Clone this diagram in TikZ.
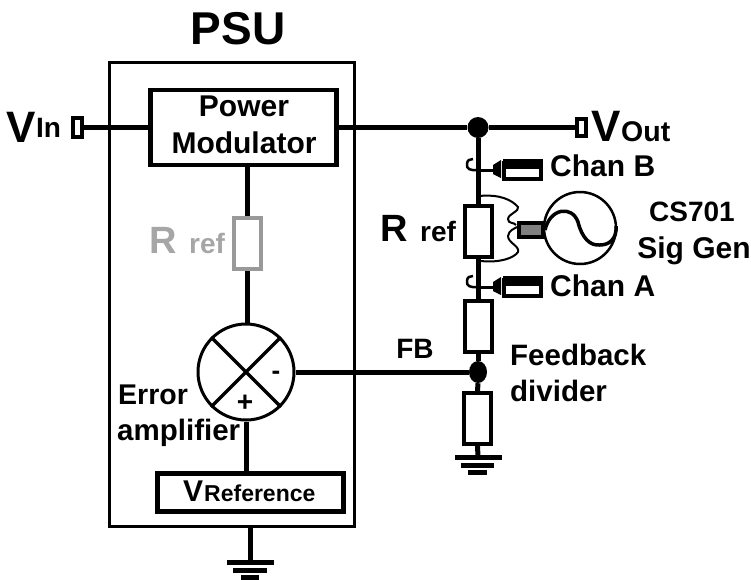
\documentclass[tikz,border=0pt]{standalone}
\usepackage{fontspec}
\usetikzlibrary{shapes.geometric}
\setmainfont{Liberation Sans}[BoldFont={Liberation Sans Bold}]
\newcommand{\fsz}[1]{\fontsize{#1}{#1}\selectfont\bfseries}
\tikzset{
  wire/.style={line width=5pt,black},
  blk/.style={draw=black,line width=4.5pt,fill=white,inner sep=0pt},
  res/.style={draw=black,line width=4pt,fill=white,inner sep=0pt,minimum width=27pt,minimum height=51pt},
  lbl/.style={inner sep=0pt,text=black,anchor=base,align=center},
  dot/.style={fill=black,inner sep=0pt},
  gbar/.style={line width=5pt,black},
  probe/.style={draw=black,line width=4pt,fill=white,inner sep=0pt,minimum width=37pt,minimum height=16pt},
  curl/.style={line width=2pt,black}
}
\begin{document}
\begin{tikzpicture}[x=1pt,y=-1pt]
\useasboundingbox (0,0) rectangle (751,579);
% PSU box
\node[draw=black,line width=3pt,inner sep=0pt,minimum width=245pt,minimum height=464pt] (psu) at (232,294.5) {};
\node[dot,circle,minimum size=21pt] (top) at (478,127.5) {};
\node[dot,ellipse,minimum width=18pt,minimum height=22pt] (fbd) at (478,372) {};
\node[draw=black,line width=4.5pt,fill=white,inner sep=0pt,minimum width=186pt,minimum height=75pt] (pm) at (243.5,127.5) {};
\node[blk,minimum width=186pt,minimum height=38pt] (vr) at (250.5,492.5) {};
\node[draw=black,line width=3pt,fill=white,circle,inner sep=0pt,minimum size=96pt] (amp) at (246,372) {};
\node[res,draw=black!40!white] (rl) at (247,243.5) {};
\node[res] (rr) at (478,231.5) {};
\node[res] (rd) at (478,326) {};
\node[res] (rb) at (477.5,418.5) {};
\node[draw=black,line width=4pt,fill=white,inner sep=0pt,minimum width=9pt,minimum height=19pt] (vin) at (77,127.5) {};
\node[draw=black,line width=4pt,fill=white,inner sep=0pt,minimum width=9pt,minimum height=17pt] (vout) at (581.5,127.5) {};
\coordinate (g1) at (250,562);
\coordinate (g2) at (478,457);
\draw[wire] (vin.east) -- (pm.west);
\draw[wire] (pm.east) -- (top.west);
\draw[wire] (top.east) -- (vout.west);
\draw[wire] (pm.south-|rl) -- (rl.north);
\draw[wire] (rl.south) -- (amp.north-|rl);
\draw[wire] (amp.south) -- (vr.north-|amp);
\draw[wire] (top.south) -- (rr.north);
\draw[wire] (rr.south) -- (rd.north);
\draw[wire] (rd.south) -- (fbd.north);
\draw[wire] (fbd.south) -- (rb.north);
\draw[wire] (amp.east) -- (fbd.west);
\draw[wire] (rb.south) -- (g2);
\draw[wire] (psu.south-|g1) -- (g1);
% cross
\draw[line width=3.5pt] (amp.45) -- (amp.225);
\draw[line width=3.5pt] (amp.135) -- (amp.315);
% grounds
\draw[gbar] (227,562) -- (274,562); \draw[gbar] (233,570) -- (267,570); \draw[gbar] (241,577) -- (259,577);
\draw[gbar] (455,457) -- (502,457); \draw[gbar] (461,465) -- (494,465); \draw[gbar] (468,472) -- (487,472);
% probes
\foreach \nm/\yy in {pb/170,pa/287}{
  \coordinate (\nm s) at (478,\yy);
  \node[probe] (\nm) at (522,\yy-1+2) {};
  \fill[black] (503,\yy-11) rectangle (543,\yy-1);
  \fill[black] (493,\yy-5) -- (501,\yy-10) -- (501,\yy+8) -- (493,\yy+4) -- cycle;
  \draw[line width=3pt] (\nm s) -- (495,\yy);
  \draw[line width=2.5pt] (478,\yy) .. controls (471,\yy+1) and (466,\yy-1) .. (467,\yy-6) .. controls (467,\yy-10) and (470,\yy-11) .. (473,\yy-11);
}
% signal generator
\node[draw=black,line width=2.5pt,circle,fill=white,inner sep=0pt,minimum size=72pt] (sg) at (580,228) {};
\draw[line width=3.5pt] (545,230) .. controls (550,208) and (572,205) .. (578,222) .. controls (582,238) and (590,246) .. (600,245) .. controls (610,245) and (617,238) .. (616,226);
\node[draw=black,line width=4pt,fill=black!50!white,inner sep=0pt,minimum width=24pt,minimum height=14pt] (sgc) at (531,230) {};
\draw[curl] (479,196) .. controls (500,194) and (512,200) .. (518,207) .. controls (520,211) and (508,214) .. (508,219) .. controls (508,224) and (514,222) .. (516,225);
\draw[curl] (481,261) .. controls (500,263) and (514,258) .. (518,252) .. controls (520,246) and (508,243) .. (508,236) .. controls (509,230) and (514,229) .. (517,227);
% labels
\node[lbl,font=\fsz{46}] (tpsu) at (238,44) {PSU};
\node[lbl,anchor=base west,font=\fsz{44}] (tvin) at (6,142) {V};
\node[lbl,anchor=base west,font=\fsz{28}] (tin) at (36,137) {In};
\node[lbl,anchor=base west,font=\fsz{44}] (tvo) at (591,141) {V};
\node[lbl,anchor=base west,font=\fsz{28.5}] (tou) at (621,141) {Out};
\node[lbl,font=\fsz{30}] (tp1) at (244,116) {Power};
\node[lbl,font=\fsz{30}] (tp2) at (244,153) {Modulator};
\node[lbl,anchor=base west,font=\fsz{30}] (tcb) at (550,176) {Chan B};
\node[lbl,anchor=base west,font=\fsz{30}] (tca) at (550,296) {Chan A};
\node[lbl,font=\fsz{28}] (tcs) at (692,221) {CS701};
\node[lbl,font=\fsz{30}] (tsg) at (694,258) {Sig Gen};
\node[lbl,anchor=base west,font=\fsz{38},text=black!35!white] (trl) at (149,253) {R};
\node[lbl,anchor=base west,font=\fsz{28},text=black!35!white] (trl2) at (189,253) {ref};
\node[lbl,anchor=base west,font=\fsz{38}] (trr) at (380,241) {R};
\node[lbl,anchor=base west,font=\fsz{28}] (trr2) at (420,241) {ref};
\node[lbl,font=\fsz{28}] (tfb) at (415,358) {FB};
\node[lbl,anchor=base west,font=\fsz{29.5}] (tf1) at (510,365) {Feedback};
\node[lbl,anchor=base west,font=\fsz{29.5}] (tf2) at (510,401) {divider};
\node[lbl,anchor=base west,font=\fsz{28.5}] (te1) at (118,404) {Error};
\node[lbl,anchor=base west,font=\fsz{29.5}] (te2) at (117,440) {amplifier};
\node[lbl,font=\fsz{26}] (tmi) at (276,379) {-};
\node[lbl,font=\fsz{28}] (tpl) at (245,411) {+};
\node[lbl,anchor=base west,font=\fsz{30}] (tvr) at (183,501) {V};
\node[lbl,anchor=base west,font=\fsz{23}] (tvr2) at (204,501) {Reference};
\end{tikzpicture}
\end{document}
